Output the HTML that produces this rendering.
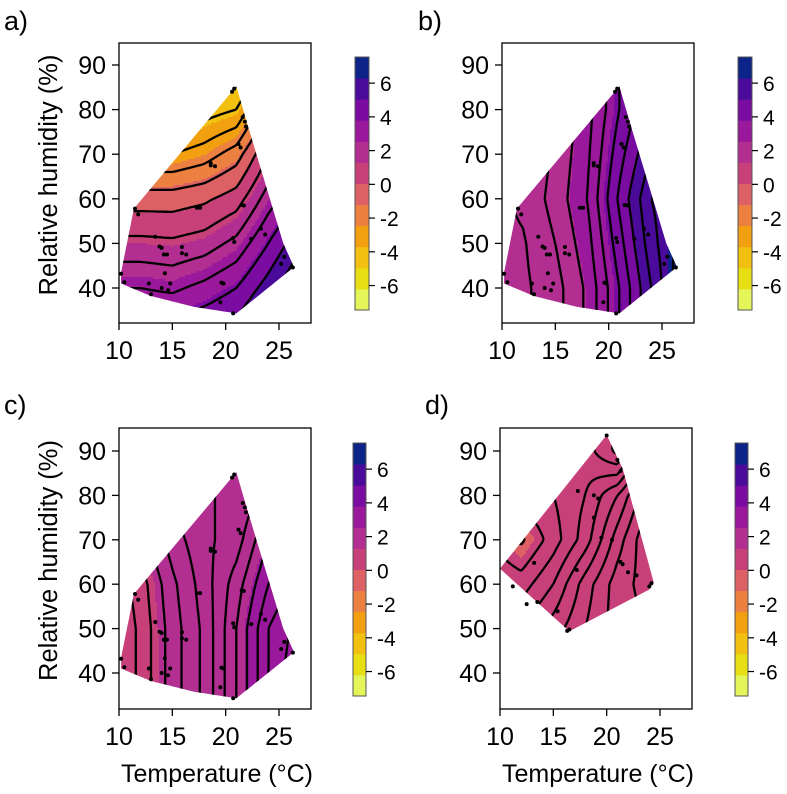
<!DOCTYPE html>
<html><head><meta charset="utf-8"><style>
body{margin:0;background:#fff;}
svg{display:block;font-family:"Liberation Sans",Arial,sans-serif;}
</style></head><body>
<svg id="fig" width="787" height="794" viewBox="0 0 787 794"></svg>
<script>
// ---- data ----
const T_GRID=[9,12,15,18,21,24,27];
const RH_GRID=[100,90,80,70,60,50,40,30];
const gridA=[
[-7.5,-7,-7,-6.5,-6,-5,-4],
[-7,-7,-7,-6.5,-6,-5,-4],
[-6,-5.5,-5,-4.5,-4,-1,1],
[-3,-3,-3,-2.5,-1.5,1,3],
[-0.5,-0.5,-0.5,-0.2,0.5,2.5,4],
[1.3,1.3,1.2,1.5,2.3,4,5.8],
[3,3,2.8,3.3,4,5.5,7.2],
[4.5,4.5,4.5,5,5.5,7,8]];
const gridB=[
[1.35,1.45,2.0,2.8,4.0,5.0,5.5],
[1.35,1.45,2.0,2.8,4.0,5.0,5.5],
[1.35,1.45,2.0,2.8,4.0,5.0,5.5],
[1.35,1.5,2.1,2.9,4.3,5.5,6.0],
[1.35,1.6,2.2,3.0,4.6,6.0,6.5],
[1.35,1.45,2.0,2.8,4.3,5.8,6.8],
[1.35,1.4,1.8,2.6,4.0,5.5,7.0],
[1.35,1.4,1.8,2.6,4.0,5.5,7.0]];
const gridC=[
[1.5,1.7,1.95,2.0,2.0,2.2,2.4],
[1.5,1.7,1.95,2.0,2.0,2.2,2.4],
[1.3,1.55,1.85,2.0,2.0,2.3,2.5],
[1.0,1.3,1.7,1.95,2.1,2.6,2.9],
[0.8,1.1,1.55,1.9,2.3,2.8,3.1],
[0.7,1.05,1.5,1.85,2.4,3.0,3.3],
[0.7,1.05,1.5,1.85,2.4,3.0,3.4],
[0.7,1.05,1.5,1.85,2.4,3.0,3.4]];
const gridD=[
[0.2,0.2,0.2,0.25,0.1,0.5,0.8],
[0.2,0.2,0.2,0.25,0.07,0.6,0.9],
[0.15,0.15,0.2,0.3,0.5,0.8,0.95],
[0.1,-0.02,0.15,0.35,0.65,0.9,1.0],
[0.2,0.15,0.3,0.55,0.75,0.85,0.9],
[0.3,0.3,0.45,0.6,0.75,0.8,0.85],
[0.3,0.3,0.45,0.6,0.75,0.8,0.85],
[0.3,0.3,0.45,0.6,0.75,0.8,0.85]];
const hullABC=[[10.2,43.5],[11.4,57.8],[21,85.2],[22,77],[25.4,50],[26.4,44.7],[21,34.3],[17,35.8],[13,38.2],[10.2,41]];
const hullD=[[20,93.6],[21.5,86],[24.4,60.5],[24,58.8],[16.5,49.4],[10,63.5]];
const ptsABC=[[10.2,43.2],[10.5,41.3],[11.5,57.8],[11.8,56.5],[12.8,41],[13,38.6],[13.4,51.5],[13.8,49.3],[14,49],[14.2,47.5],[14.5,47.5],[14,40],[14.3,43.3],[14.6,39.5],[14.8,41],[15.9,49.2],[15.9,47.8],[16.3,47.5],[17.3,58],[17.6,58],[18.6,68],[19,67.3],[19.6,41.2],[19.8,41],[19.5,36.8],[20.7,34.3],[20.8,84.7],[20.6,84],[21.2,72.3],[21.4,71.5],[21.6,78.3],[21.8,77.3],[21.9,76.2],[21.5,58.6],[21.7,58.5],[20.7,51.2],[20.8,50.3],[22.4,51],[23.3,53.3],[23.7,52],[25.5,47],[26.3,44.6],[25.2,45.4],[18.6,67.5]];
const ptsD=[[20,93.5],[21,88],[21.3,85.5],[18.8,80],[19.2,79.3],[17.3,81],[18.8,75],[19.5,70.5],[20.5,70],[21.3,65],[22,62.7],[21.5,64.5],[22.8,62],[24,59.5],[24.2,60.2],[13.2,64.8],[11.2,59.5],[12.5,55.5],[15.4,53.9],[16.5,49.8],[16.3,49.5],[17.2,63.2],[13.5,56]];
const levelsA=[-6,-5,-4,-3,-2,-1,0,1,2,3,4,5,6];
const levelsB=[1.5,2,2.5,3,3.5,4,4.5,5,5.5,6,6.5];
const levelsC=[1,1.2,1.4,1.6,1.8,2,2.2,2.4,2.6,2.8,3,3.2];
const levelsD=[0,0.1,0.2,0.3,0.4,0.5,0.6,0.7,0.8,0.9];
const binColors=["#e4f55a","#e8de14","#f2c010","#f3a010","#ec8040","#dc6064","#c8407a","#b22e90","#9a189c","#7a0ca2","#4a0a9a","#0c2388"];
const BIN_LO=-7.45, BIN_W=1.25;
const xTicks=[10,15,20,25];
const yTicks=[40,50,60,70,80,90];
const cbTicks=[-6,-4,-2,0,2,4,6];

const NS="http://www.w3.org/2000/svg";
const svg=document.getElementById('fig');
function mk(tag,attrs,parent){const e=document.createElementNS(NS,tag);for(const k in attrs)e.setAttribute(k,attrs[k]);(parent||svg).appendChild(e);return e;}

function val(g,T,RH){
  let i=(T-T_GRID[0])/3; i=Math.max(0,Math.min(T_GRID.length-1.0001,i));
  let j=(RH_GRID[0]-RH)/10; j=Math.max(0,Math.min(RH_GRID.length-1.0001,j));
  const i0=Math.floor(i),j0=Math.floor(j),fi=i-i0,fj=j-j0;
  return g[j0][i0]*(1-fi)*(1-fj)+g[j0][i0+1]*fi*(1-fj)+g[j0+1][i0]*(1-fi)*fj+g[j0+1][i0+1]*fi*fj;
}
function binOf(v){let b=Math.floor((v-BIN_LO)/BIN_W);return Math.max(0,Math.min(binColors.length-1,b));}

const panels=[
 {id:'a',label:'a)',lx:4,ly:30,x10:119,y90:65,ppt:10.667,ppr:4.46,box:[119,43,311,323],cb:[355,57,369,310],grid:gridA,hull:hullABC,pts:ptsABC,levels:levelsA,ylab:true,xlab:false},
 {id:'b',label:'b)',lx:418,ly:30,x10:502,y90:65,ppt:10.667,ppr:4.46,box:[502,43,694,323],cb:[738,57,752,310],grid:gridB,hull:hullABC,pts:ptsABC,levels:levelsB,ylab:false,xlab:false},
 {id:'c',label:'c)',lx:4,ly:414,x10:119,y90:451,ppt:10.667,ppr:4.44,box:[119,428,311,709],cb:[353,443,366,696],grid:gridC,hull:hullABC,pts:ptsABC,levels:levelsC,ylab:true,xlab:true},
 {id:'d',label:'d)',lx:425,ly:414,x10:500,y90:451,ppt:10.667,ppr:4.44,box:[500,428,692,709],cb:[735,443,748,696],grid:gridD,hull:hullD,pts:ptsD,levels:levelsD,ylab:false,xlab:true}
];

panels.forEach(p=>{
  const sx=T=>p.x10+(T-10)*p.ppt, sy=RH=>p.y90+(90-RH)*p.ppr;
  const ix=x=>10+(x-p.x10)/p.ppt, iy=y=>90-(y-p.y90)/p.ppr;
  const g=mk('g',{});
  
  
  const lab=mk('text',{x:p.lx,y:p.ly,'font-size':27,fill:'#000'},g);lab.textContent=p.label;
  
  
  const cp=mk('clipPath',{id:'clip'+p.id},g);
  mk('polygon',{points:p.hull.map(q=>sx(q[0])+','+sy(q[1])).join(' ')},cp);
  const fill=mk('g',{'clip-path':'url(#clip'+p.id+')'},g);
  
  
  const [bx0,by0,bx1,by1]=p.box, S=2;
  for(let y=by0;y<by1;y+=S){
    let runStart=bx0,runBin=null;
    for(let x=bx0;x<=bx1;x+=S){
      const b= x<bx1? binOf(val(p.grid,ix(x+S/2),iy(y+S/2))) : -1;
      if(runBin===null){runBin=b;runStart=x;}
      else if(b!==runBin){
        mk('rect',{x:runStart,y:y,width:x-runStart+0.6,height:S+0.6,fill:binColors[runBin]},fill);
        runBin=b;runStart=x;
      }
    }
  }
  const C=3, nx=Math.ceil((bx1-bx0)/C), ny=Math.ceil((by1-by0)/C);
  const V=[];for(let j=0;j<=ny;j++){V.push([]);for(let i=0;i<=nx;i++)V[j].push(val(p.grid,ix(bx0+i*C),iy(by0+j*C)));}
  const lines=mk('g',{'clip-path':'url(#clip'+p.id+')',stroke:'#000','stroke-width':2.3,fill:'none'},g);
  
  
  p.levels.forEach(L=>{
    let d='';
    for(let j=0;j<ny;j++)for(let i=0;i<nx;i++){
      const a=V[j][i],b=V[j][i+1],c=V[j+1][i+1],e=V[j+1][i];
      const x0=bx0+i*C,y0=by0+j*C;
      const pts=[];
      const edge=(v1,v2,xa,ya,xb,yb)=>{if((v1<L)!==(v2<L)){const t=(L-v1)/(v2-v1);pts.push([xa+(xb-xa)*t,ya+(yb-ya)*t]);}};
      edge(a,b,x0,y0,x0+C,y0);edge(b,c,x0+C,y0,x0+C,y0+C);edge(e,c,x0,y0+C,x0+C,y0+C);edge(a,e,x0,y0,x0,y0+C);
      for(let k=0;k+1<pts.length;k+=2)d+='M'+pts[k][0].toFixed(1)+' '+pts[k][1].toFixed(1)+'L'+pts[k+1][0].toFixed(1)+' '+pts[k+1][1].toFixed(1);
    }
    if(d){const pa=mk('path',{d:d},lines);
      
      }
  });
  p.pts.forEach(q=>{const c=mk('circle',{cx:sx(q[0]),cy:sy(q[1]),r:2,fill:'#000'},g);
    
    });
  const bx=mk('rect',{x:bx0,y:by0,width:bx1-bx0,height:by1-by0,fill:'none',stroke:'#000','stroke-width':1.3},g);
  
  
  const xa=mk('g',{},g);
  
  
  xTicks.forEach(t=>{mk('line',{x1:sx(t),x2:sx(t),y1:by1,y2:by1+7,stroke:'#000','stroke-width':1.3},xa);
    const tx=mk('text',{x:sx(t),y:by1+36,'font-size':25,'text-anchor':'middle'},xa);tx.textContent=t;
    
    });
  const ya=mk('g',{},g);
  
  
  yTicks.forEach(t=>{mk('line',{x1:bx0-7,x2:bx0,y1:sy(t),y2:sy(t),stroke:'#000','stroke-width':1.3},ya);
    const tx=mk('text',{x:bx0-13,y:sy(t)+9,'font-size':25,'text-anchor':'end'},ya);tx.textContent=t;
    
    });
  if(p.ylab){const t=mk('text',{x:0,y:0,'font-size':25.5,'text-anchor':'middle',transform:'translate(57,'+((by0+by1)/2-8)+') rotate(-90)'},g);t.textContent='Relative humidity (%)';
    
    }
  if(p.xlab){const t=mk('text',{x:(bx0+bx1)/2+2,y:782,'font-size':25,'text-anchor':'middle'},g);t.textContent='Temperature (°C)';
    
    }
  const [cx0,cy0,cx1,cy1]=p.cb;
  const cbg=mk('g',{},g);
  
  
  const nb=binColors.length, pv=(cy1-cy0)/(nb*BIN_W);
  const cyOf=v=>cy0+(BIN_LO+nb*BIN_W-v)*pv;
  for(let k=0;k<nb;k++){
    const vlo=BIN_LO+k*BIN_W, vhi=vlo+BIN_W;
    const r=mk('rect',{x:cx0,y:cyOf(vhi),width:cx1-cx0,height:cyOf(vlo)-cyOf(vhi)+0.5,fill:binColors[k]},cbg);
    
    
  }
  mk('rect',{x:cx0,y:cy0,width:cx1-cx0,height:cy1-cy0,fill:'none',stroke:'#555','stroke-width':1},cbg);
  cbTicks.forEach(t=>{mk('line',{x1:cx1,x2:cx1+6,y1:cyOf(t),y2:cyOf(t),stroke:'#000','stroke-width':1.2},cbg);
    const tx=mk('text',{x:cx1+11,y:cyOf(t)+8,'font-size':21},cbg);tx.textContent=t;
    
    });
});
</script>
</body></html>
